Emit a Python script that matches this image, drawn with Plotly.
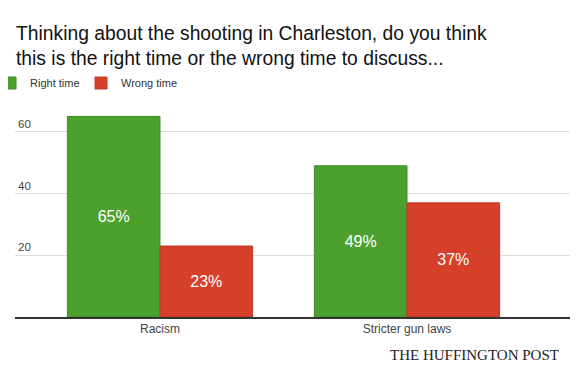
import plotly.graph_objects as go

categories = ["Racism", "Stricter gun laws"]
right_time = [65, 49]
wrong_time = [23, 37]
y_ticks = [20, 40, 60]

GREEN = "#4ca12e"
RED = "#d6402b"
FONT = "Liberation Sans, Arial, sans-serif"

# page body has an 8px margin: figure drawn at offset (8, 8) in the window
OFF = 8
W, H = 578 - OFF, 382 - OFF
# plot area in window pixels: x 15..570, y 101..317
L, T = 15 - OFF, 101 - OFF
R = W - (570 - OFF)
B = H - (317 - OFF)
PH = H - T - B
PW = W - L - R


def py(win_y):
    return (H - B - (win_y - OFF)) / PH


def px(win_x):
    return (win_x - OFF - L) / PW


fig = go.Figure()
fig.add_trace(go.Bar(
    name="Right time", x=categories, y=right_time,
    marker=dict(color=GREEN, line=dict(color="#3f8a26", width=1)),
    text=[f"{v}%" for v in right_time], textposition="inside",
    insidetextanchor="middle",
    textfont=dict(color="white", size=16, family=FONT),
    legendwidth=46,
))
fig.add_trace(go.Bar(
    name="Wrong time", x=categories, y=wrong_time,
    marker=dict(color=RED, line=dict(color="#c0392b", width=1)),
    text=[f"{v}%" for v in wrong_time], textposition="inside",
    insidetextanchor="middle",
    textfont=dict(color="white", size=16, family=FONT),
))

fig.update_layout(
    width=W, height=H,
    margin=dict(l=L, r=R, t=T, b=B, autoexpand=False),
    paper_bgcolor="white", plot_bgcolor="white",
    barmode="group", bargap=0.25, bargroupgap=0,
    font=dict(family=FONT, color="#444"),
    legend=dict(
        orientation="h", x=px(15) - 0.045, xanchor="left", y=py(83), yanchor="middle",
        font=dict(size=11, color="#333", family=FONT),
        traceorder="normal",
        bgcolor="rgba(0,0,0,0)",
    ),
    xaxis=dict(
        range=[-0.587, 1.66], showgrid=False,
        showline=True, linecolor="#333", linewidth=1.5,
        ticks="", tickfont=dict(size=12, color="#444"),
        fixedrange=True,
    ),
    yaxis=dict(
        range=[0, 70], tickvals=y_ticks,
        showgrid=True, gridcolor="#dddddd", gridwidth=1,
        zeroline=False, showline=False,
        ticklabelposition="inside top",
        tickfont=dict(size=11.5, color="#444"),
        fixedrange=True,
    ),
    annotations=[
        dict(
            text="Thinking about the shooting in Charleston, do you think<br>this is the right time or the wrong time to discuss...",
            x=px(14), xref="paper", xanchor="left", align="left",
            y=py(46), yref="paper", yanchor="middle",
            showarrow=False,
            font=dict(size=19.3, color="#111", family=FONT),
        ),
        dict(
            text="THE HUFFINGTON POST", x=px(561), xref="paper",
            xanchor="right", y=py(355), yref="paper", yanchor="middle",
            showarrow=False,
            font=dict(family="Liberation Serif, Times New Roman, serif", size=15, color="#222"),
        ),
    ],
)

fig.write_html("out.html")
